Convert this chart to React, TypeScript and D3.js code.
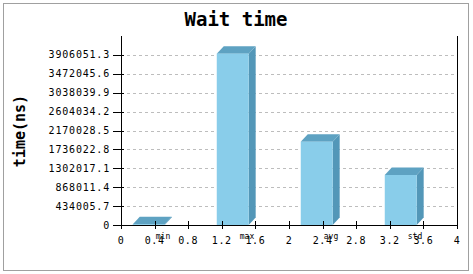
import React from "react";
import * as d3 from "d3";

const categories = ["min", "max", "avg", "std"];
const values = [20000, 3935000, 1912000, 1148000];
const yTickValues = [0, 434005.7, 868011.4, 1302017.1, 1736022.8, 2170028.5, 2604034.2, 3038039.9, 3472045.6, 3906051.3];
const yTickLabels = ["0", "434005.7", "868011.4", "1302017.1", "1736022.8", "2170028.5", "2604034.2", "3038039.9", "3472045.6", "3906051.3"];
const xTickValues = [0, 0.4, 0.8, 1.2, 1.6, 2, 2.4, 2.8, 3.2, 3.6, 4];
const xTickLabels = ["0", "0.4", "0.8", "1.2", "1.6", "2", "2.4", "2.8", "3.2", "3.6", "4"];
const yMax = 4340057;

const W = 473, H = 274;
const L = 121, R = 457, T = 36, B = 225;
const DX = 7, DY = 7.5;
const BAR_START = 0.14, BAR_END = 0.52, LABEL_POS = 0.5;

const FRONT = "#89cdea";
const TOP = "#5ea2c2";
const SIDE = "#5397b8";
const mono = "'DejaVu Sans Mono', monospace";

export default function App() {
  const x = d3.scaleLinear().domain([0, 4]).range([L, R]);
  const y = d3.scaleLinear().domain([0, yMax]).range([B, T]);

  return (
    <svg width={W} height={H} style={{ position: "absolute", left: 0, top: 0, background: "#fff" }}>
      <rect x={3.5} y={3.5} width={465} height={267} fill="#fff" stroke="#a0a0a0" strokeWidth={1} />
      <text x={236} y={26} textAnchor="middle" fontFamily={mono} fontWeight="bold" fontSize={19}>Wait time</text>
      <text transform={`translate(25,${131}) rotate(-90)`} textAnchor="middle" fontFamily={mono} fontWeight="bold" fontSize={15}>time(ns)</text>

      {yTickValues.map((v, i) => (
        <g key={"yt" + i}>
          {i > 0 && (
            <line x1={L} x2={R} y1={Math.round(y(v)) + 0.5} y2={Math.round(y(v)) + 0.5} stroke="#bdbdbd" strokeDasharray="3,3" />
          )}
          <line x1={L - 8} x2={L + 3} y1={Math.round(y(v)) + 0.5} y2={Math.round(y(v)) + 0.5} stroke="#000" />
          <text x={L - 11} y={y(v) + 3.5} textAnchor="end" fontFamily={mono} fontSize={10} letterSpacing={0.8}>{yTickLabels[i]}</text>
        </g>
      ))}

      {categories.map((c, i) => {
        const x0 = x(i + BAR_START);
        const x1 = x(i + BAR_END);
        const y0 = y(0);
        const yt = y(values[i]);
        const top = `M${x0},${yt} L${x0 + DX},${yt - DY} L${x1 + DX},${yt - DY} L${x1},${yt} Z`;
        const side = `M${x1},${yt} L${x1 + DX},${yt - DY} L${x1 + DX},${y0 - DY} L${x1},${y0} Z`;
        return (
          <g key={c}>
            <path d={side} fill={SIDE} />
            <path d={top} fill={TOP} />
            <rect x={x0} y={yt} width={x1 - x0} height={y0 - yt} fill={FRONT} />
          </g>
        );
      })}

      <line x1={L + 0.5} x2={L + 0.5} y1={T} y2={B} stroke="#000" />
      <line x1={R + 0.5} x2={R + 0.5} y1={T} y2={B} stroke="#000" />
      <line x1={L} x2={R + 1} y1={B + 0.5} y2={B + 0.5} stroke="#000" />

      {xTickValues.map((v, i) => (
        <g key={"xt" + i}>
          <line x1={Math.round(x(v)) + 0.5} x2={Math.round(x(v)) + 0.5} y1={B - 4} y2={B + 4} stroke="#000" />
          <text x={x(v)} y={244} textAnchor="middle" fontFamily={mono} fontSize={10} letterSpacing={0.6}>{xTickLabels[i]}</text>
        </g>
      ))}

      {categories.map((c, i) => (
        <text key={"cl" + c} x={x(i + LABEL_POS)} y={239} textAnchor="middle" fontFamily={mono} fontSize={8}>{c}</text>
      ))}
    </svg>
  );
}
